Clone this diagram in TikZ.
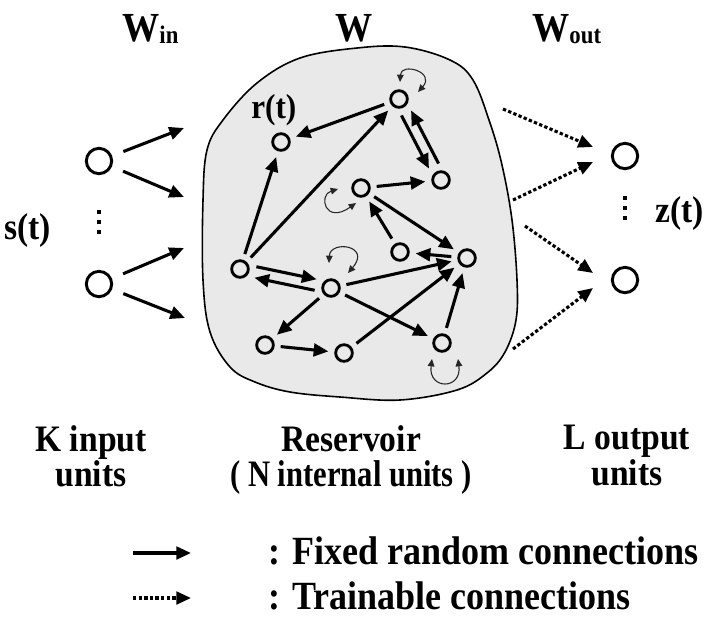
\documentclass[tikz,border=0pt]{standalone}
\usepackage{fontspec}
\setmainfont{Liberation Serif}[FakeStretch=0.9]
\newfontfamily\narrowserif{Liberation Serif}[FakeStretch=0.82]
\usetikzlibrary{arrows.meta}
\definecolor{blobgray}{RGB}{233,233,233}
\begin{document}
\begin{tikzpicture}[x=0.75pt,y=-0.75pt,
  unit/.style={circle,draw,line width=2.1pt,minimum size=12.5pt,inner sep=0pt},
  bigunit/.style={circle,draw,line width=2.2pt,minimum size=19pt,inner sep=0pt},
  tip/.style={-{Triangle[length=11pt,width=9.5pt]}},
  conn/.style={line width=2.3pt,tip,shorten >=4.5pt,shorten <=4.5pt},
  inconn/.style={line width=2.3pt,tip,shorten <=9pt},
  dotconn/.style={line width=2.3pt,dash pattern=on 2.5pt off 1.7pt,tip},
  legsolid/.style={line width=2.3pt,tip},
  loopar/.style={line width=0.8pt,black!85,{Triangle[length=5.5pt,width=5pt]}-{Triangle[length=5.5pt,width=5pt]}},
  lab/.style={font=\bfseries\fontsize{28}{26.5}\selectfont,inner sep=0pt},
  leglab/.style={font=\bfseries\fontsize{30}{30}\selectfont,inner sep=0pt},
  wlab/.style={font=\bfseries\fontsize{31}{31}\selectfont,inner sep=0pt},
  vdot/.style={fill=black,minimum size=3.2pt,inner sep=0pt,rectangle},
]
\useasboundingbox (0,0) rectangle (713,626);

% reservoir blob
\draw[fill=blobgray,line width=1.2pt] plot[smooth cycle,tension=0.6] coordinates {
 (203,200) (207,150) (223,120) (257,83) (300,58) (357,48) (405,47) (450,60)
 (473,80) (490,123) (502,165) (512,220) (517,280) (516,320) (505,352) (487,373)
 (457,390) (400,400) (340,397) (290,392) (255,382) (230,367) (210,332) (203,280)};

% headings
\node[wlab,anchor=base west] (win) at (122,41) {W\raisebox{-1.5pt}{\fontsize{19}{19}\selectfont in}};
\node[wlab,anchor=base] (w) at (354,41) {W};
\node[wlab,anchor=base west] (wout) at (532,41) {W\raisebox{-1.5pt}{\fontsize{19}{19}\selectfont out}};

% input units
\node[bigunit] (i1) at (99,161) {};
\node[bigunit] (i2) at (99,284) {};
\node[vdot] (id1) at (99,212) {};
\node[vdot] (id2) at (99,222) {};
\node[vdot] (id3) at (99,232) {};
\node[font=\bfseries\fontsize{28}{28}\selectfont,inner sep=0pt,anchor=base west] (st) at (4,239) {s(t)};

% output units
\node[bigunit] (z1) at (625,156) {};
\node[bigunit] (z2) at (625,280) {};
\node[vdot] (od1) at (625,198) {};
\node[vdot] (od2) at (625,208) {};
\node[vdot] (od3) at (625,218) {};
\node[font=\bfseries\fontsize{28}{28}\selectfont,inner sep=0pt,anchor=base west] (zt) at (655,222) {z(t)};

% internal units
\node[unit] (A) at (281,142) {};
\node[unit] (B) at (399,99) {};
\node[unit] (C) at (441,180) {};
\node[unit] (D) at (361,188) {};
\node[unit] (E) at (400,252) {};
\node[unit] (F) at (467,258) {};
\node[unit] (G) at (240,269) {};
\node[unit] (H) at (331,288) {};
\node[unit] (I) at (265,345) {};
\node[unit] (J) at (344,353) {};
\node[unit] (K) at (442,343) {};
\node[font=\bfseries\fontsize{26}{26}\selectfont,inner sep=0pt,anchor=base west] (rt) at (251,118) {r(t)};

% internal connections
\draw[conn] (B) -- (A);
\draw[conn] (G) -- (A);
\draw[conn] (G) -- (B);
\draw[conn,transform canvas={shift={(-4.8,2.5)}}] (B) -- (C);
\draw[conn,transform canvas={shift={(4.8,-2.5)}}] (C) -- (B);
\draw[conn] (D) -- (C);
\draw[conn] (D) -- (F);
\draw[conn] (E) -- (D);
\draw[conn] (F) -- (E);
\draw[conn,transform canvas={shift={(1,-5.5)}}] (G) -- (H);
\draw[conn,transform canvas={shift={(-1,5.5)}}] (H) -- (G);
\draw[conn] (H) -- (F);
\draw[conn] (H) -- (I);
\draw[conn] (H) -- (K);
\draw[conn] (I) -- (J);
\draw[conn] (J) -- (F);
\draw[conn] (K) -- (F);

% self loops
\draw[loopar] (400,82) .. controls (401,62) and (436,72) .. (418,92);
\draw[loopar] (338,189) .. controls (318,195) and (325,225) .. (356,203);
\draw[loopar] (329,263) .. controls (330,240) and (372,245) .. (348,273);
\draw[loopar] (432,359) .. controls (428,390) and (462,390) .. (458,359);

% input connections
\coordinate (a1) at (184,128);
\coordinate (a2) at (184,197);
\coordinate (a3) at (184,248);
\coordinate (a4) at (185,318);
\draw[inconn] (i1) -- (a1);
\draw[inconn] (i1) -- (a2);
\draw[inconn] (i2) -- (a3);
\draw[inconn] (i2) -- (a4);

% output connections
\coordinate (b1) at (503,109);
\coordinate (c1) at (593,147);
\coordinate (b2) at (513,200);
\coordinate (c2) at (593,162);
\coordinate (b3) at (525,226);
\coordinate (c3) at (593,273);
\coordinate (b4) at (513,349);
\coordinate (c4) at (593,288);
\draw[dotconn] (b1) -- (c1);
\draw[dotconn] (b2) -- (c2);
\draw[dotconn] (b3) -- (c3);
\draw[dotconn] (b4) -- (c4);

% bottom labels
\node[lab,align=center,anchor=north] (kin) at (91,425) {K input\\units};
\node[lab,align=center,anchor=north] (res) at (351,425) {Reservoir\\{\narrowserif\bfseries ( N internal units )}};
\node[lab,align=center,anchor=north] (lout) at (627,425) {L output\\units};

% legend
\coordinate (l1a) at (133,553);
\coordinate (l1b) at (191,553);
\coordinate (l2a) at (133,598);
\coordinate (l2b) at (191,598);
\draw[legsolid] (l1a) -- (l1b);
\draw[dotconn] (l2a) -- (l2b);
\node[leglab,anchor=base west] (fixed) at (268,564) {: Fixed random connections};
\node[leglab,anchor=base west] (train) at (268,609) {: Trainable connections};
\end{tikzpicture}
\end{document}
